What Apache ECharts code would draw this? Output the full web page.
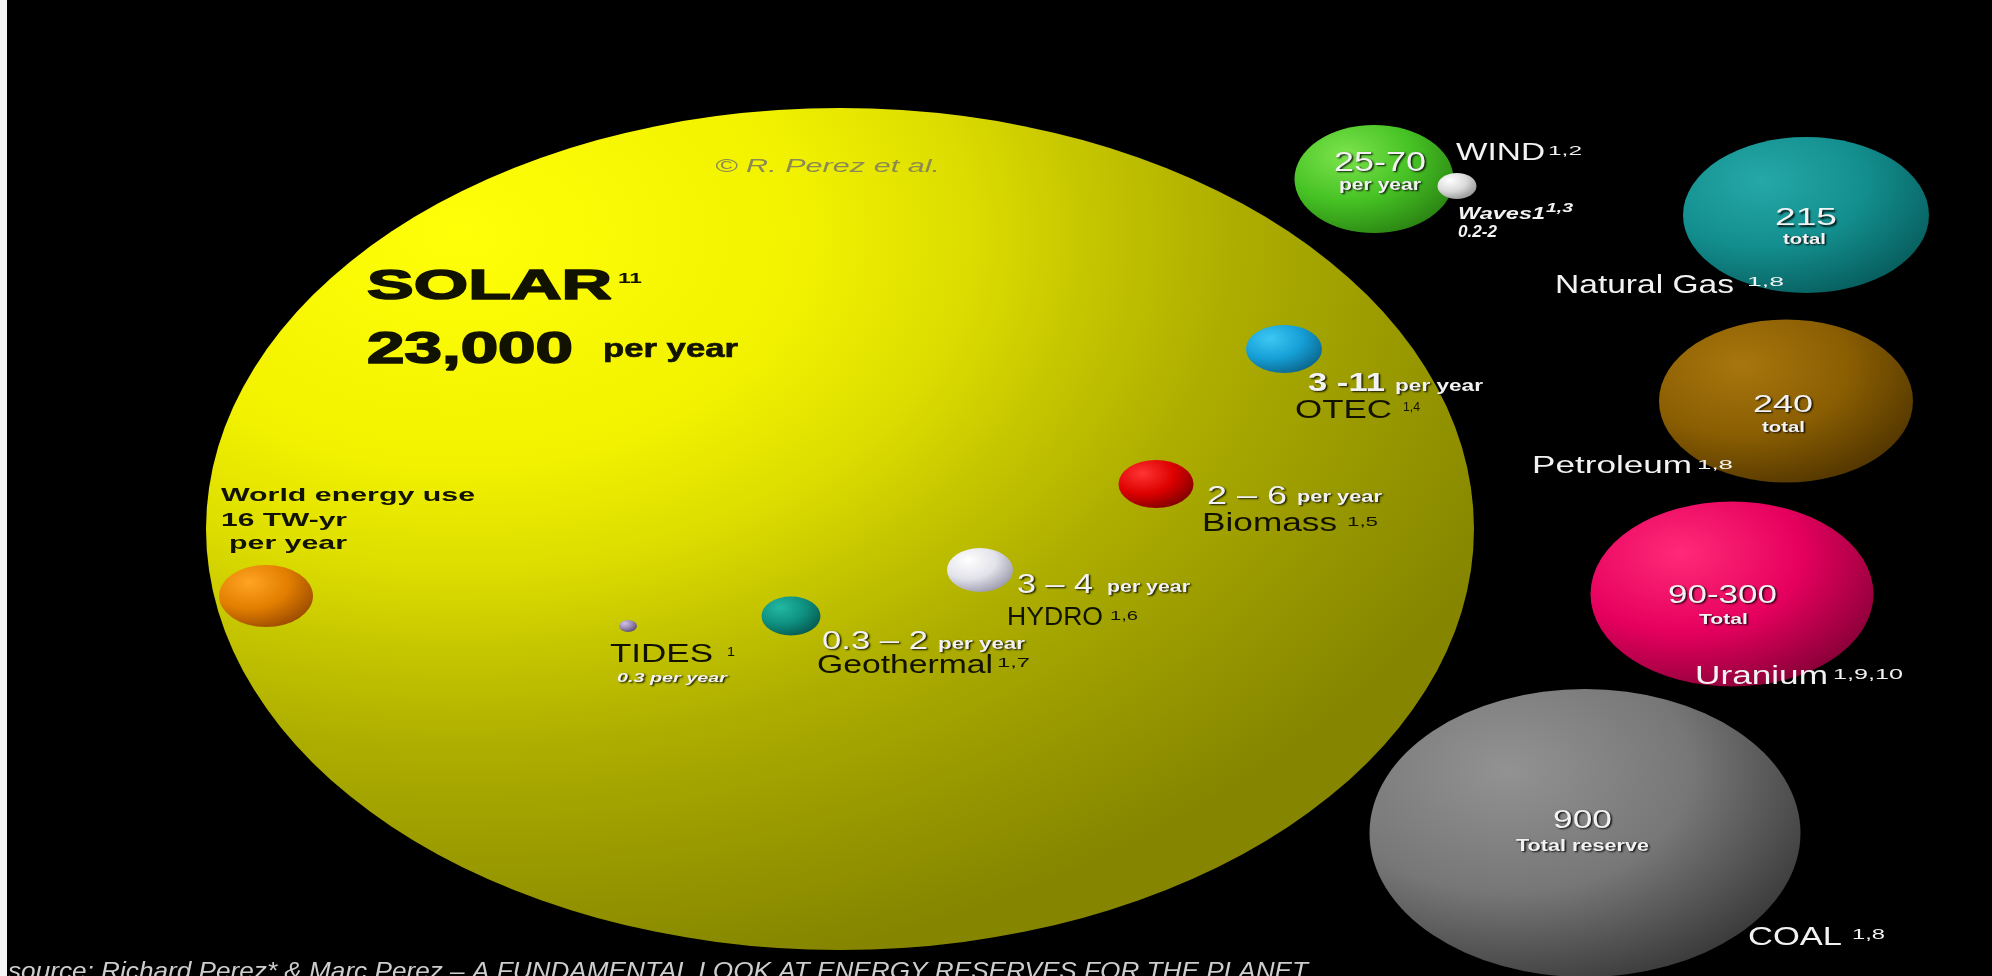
<!DOCTYPE html>
<html>
<head>
<meta charset="utf-8">
<script src="https://cdn.jsdelivr.net/npm/echarts@6/dist/echarts.min.js"></script>
<style>
html,body{margin:0;padding:0;background:#000;overflow:hidden}
#c{width:1992px;height:976px}
</style>
</head>
<body>
<div id="c"></div>
<script>
// ---------------- data ----------------
const sourceNames = ['SOLAR','WIND','Waves1','Natural Gas','Petroleum','Uranium','COAL','OTEC','Biomass','HYDRO','Geothermal','TIDES','World energy use'];
const amounts     = ['23,000','25-70','0.2-2','215','240','90-300','900','3 -11','2 \u2013 6','3 \u2013 4','0.3 \u2013 2','0.3','16 TW-yr'];
const amountUnits = ['per year','per year','','total','total','Total','Total reserve','per year','per year','per year','per year','per year','per year'];
const footnotes   = ['11','1,2','1,3','1,8','1,8','1,9,10','1,8','1,4','1,5','1,6','1,7','1',''];
const creditText  = '\u00a9 R. Perez et al.';
const sourceNote  = 'source: Richard Perez* & Marc Perez \u2013 A FUNDAMENTAL LOOK AT ENERGY RESERVES FOR THE PLANET';

// ---------------- layout (canvas units, kept apart from data) ----------------
// [centre x, centre y, width, height]
const bubbleLayout = [
  [840, 529, 1268, 842],
  [1374, 179, 159, 108],
  [1457, 186, 39, 26],
  [1806, 215, 246, 156],
  [1786, 401, 254, 163],
  [1732, 594, 283, 185],
  [1585, 833, 431, 288],
  [1284, 349, 76, 48],
  [1156, 484, 75, 48],
  [980, 570, 66, 44],
  [791, 616, 59, 39],
  [628, 626, 18, 12],
  [266, 596, 94, 62]
];
// [highlight, body, shadow]
const bubbleColors = [
  ['#ffff08', '#dcdc00', '#858500'],
  ['#7ce44c', '#46c224', '#267a10'],
  ['#ffffff', '#dadada', '#8a8a8a'],
  ['#26a8a8', '#138e8e', '#065656'],
  ['#a8760e', '#8a5e02', '#4a3000'],
  ['#ff2a78', '#e6005e', '#7a0032'],
  ['#929292', '#777777', '#303030'],
  ['#3cc8f4', '#159fd6', '#0a5c80'],
  ['#ff3434', '#dd0000', '#700000'],
  ['#ffffff', '#e2e2ea', '#8e8ea2'],
  ['#22b8a2', '#0e9080', '#055048'],
  ['#d0c0e8', '#9888b0', '#504060'],
  ['#ffa424', '#e27e00', '#904200']
];

const FAM = "'Liberation Sans', Arial, Helvetica, sans-serif";
const ELLIPSE = 'path://M50 0A50 50 0 1 1 50 100A50 50 0 1 1 50 0Z';

function grad(c, i) {
  if (i === 0) {
    return { type: 'radial', x: 0.2, y: 0.15, r: 0.9, colorStops: [
      { offset: 0, color: c[0] }, { offset: 0.3, color: '#f2f200' },
      { offset: 0.45, color: c[1] }, { offset: 0.55, color: '#c6c600' },
      { offset: 0.68, color: '#adad00' }, { offset: 0.85, color: '#979700' },
      { offset: 1, color: c[2] }] };
  }
  return { type: 'radial', x: 0.32, y: 0.28, r: 0.85, colorStops: [
    { offset: 0, color: c[0] }, { offset: 0.5, color: c[1] }, { offset: 1, color: c[2] }] };
}

const bubbleData = bubbleLayout.map((b, i) => ({
  name: sourceNames[i],
  value: [b[0], b[1]],
  symbolSize: [b[2], b[3]],
  itemStyle: { color: grad(bubbleColors[i], i), opacity: 1 }
}));

// ---------------- text segments ----------------
const mctx = document.createElement('canvas').getContext('2d');
const WHITE = '#f2f2f2', DARK = '#121200';
function seg(text, x0, x1, base, size, weight, fstyle, color, shadow, heavy) {
  const font = fstyle + ' ' + weight + ' ' + size + 'px ' + FAM;
  mctx.font = font;
  const w = mctx.measureText(text).width || 1;
  const sx = (x1 - x0) / w;
  const st = {
    text: text, font: font, fill: color,
    align: 'left', verticalAlign: 'middle', textAlign: 'left', textVerticalAlign: 'middle',
    textShadowColor: shadow ? 'rgba(0,0,0,0.9)' : 'transparent',
    textShadowBlur: shadow ? 2 : 0, textShadowOffsetX: shadow ? 1.5 : 0, textShadowOffsetY: shadow ? 1.5 : 0
  };
  if (heavy) { st.stroke = color; st.lineWidth = heavy; }
  return { type: 'text', x: x0, y: base - 0.36 * size, scaleX: sx, scaleY: 1, silent: true, z: 100, style: st };
}

const texts = [
  seg(creditText, 715, 940, 173, 18, 'normal', 'italic', '#8a8a52', false),
  // solar
  seg(sourceNames[0], 367, 612, 303, 43, 'bold', 'normal', DARK, false, 1.6),
  seg(footnotes[0], 618, 642, 284, 15, 'bold', 'normal', DARK, false),
  seg(amounts[0], 367, 573, 367, 44, 'bold', 'normal', DARK, false, 1.6),
  seg(amountUnits[0], 603, 738, 359, 25, 'bold', 'normal', DARK, false, 0.6),
  // world energy use
  seg(sourceNames[12], 221, 475, 503, 19, 'bold', 'normal', DARK, false),
  seg(amounts[12], 221, 347, 528, 19, 'bold', 'normal', DARK, false),
  seg(amountUnits[12], 229, 347, 551, 19, 'bold', 'normal', DARK, false),
  // wind
  seg(sourceNames[1], 1456, 1545, 162, 23, 'normal', 'normal', WHITE, false),
  seg(footnotes[1], 1548, 1582, 156, 13, 'normal', 'normal', WHITE, false),
  seg(amounts[1], 1334, 1426, 173, 28, 'normal', 'normal', WHITE, true),
  seg(amountUnits[1], 1339, 1421, 191, 16, 'bold', 'normal', WHITE, true),
  // waves
  seg(sourceNames[2], 1458, 1545, 220, 16, 'bold', 'italic', WHITE, false),
  seg(footnotes[2], 1546, 1573, 213, 12, 'bold', 'italic', WHITE, false),
  seg(amounts[2], 1458, 1497, 238, 16, 'bold', 'italic', WHITE, false),
  // natural gas
  seg(amounts[3], 1775, 1837, 227, 23, 'normal', 'normal', WHITE, true),
  seg(amountUnits[3], 1783, 1826, 245, 14, 'bold', 'normal', WHITE, true),
  seg(sourceNames[3], 1555, 1734, 295, 25, 'normal', 'normal', WHITE, false),
  seg(footnotes[3], 1747, 1784, 287, 13, 'normal', 'normal', WHITE, false),
  // petroleum
  seg(amounts[4], 1753, 1813, 414, 24, 'normal', 'normal', WHITE, true),
  seg(amountUnits[4], 1762, 1805, 433, 14, 'bold', 'normal', WHITE, true),
  seg(sourceNames[4], 1532, 1692, 475, 23, 'normal', 'normal', WHITE, false),
  seg(footnotes[4], 1697, 1733, 470, 13, 'normal', 'normal', WHITE, false),
  // uranium
  seg(amounts[5], 1668, 1777, 605, 26, 'normal', 'normal', WHITE, true),
  seg(amountUnits[5], 1699, 1748, 625, 15, 'bold', 'normal', WHITE, true),
  seg(sourceNames[5], 1695, 1828, 686, 26, 'normal', 'normal', WHITE, false),
  seg(footnotes[5], 1833, 1903, 680, 15, 'normal', 'normal', WHITE, false),
  // coal
  seg(amounts[6], 1553, 1612, 830, 25, 'normal', 'normal', WHITE, true),
  seg(amountUnits[6], 1516, 1649, 852, 16, 'bold', 'normal', WHITE, true),
  seg(sourceNames[6], 1748, 1842, 947, 26, 'normal', 'normal', WHITE, false),
  seg(footnotes[6], 1852, 1885, 940, 14, 'normal', 'normal', WHITE, false),
  // otec
  seg(amounts[7], 1308, 1385, 393, 25, 'bold', 'normal', WHITE, true),
  seg(amountUnits[7], 1395, 1483, 392, 16, 'bold', 'normal', WHITE, true),
  seg(sourceNames[7], 1295, 1392, 420, 26, 'normal', 'normal', DARK, false),
  seg(footnotes[7], 1403, 1420, 412, 13, 'normal', 'normal', DARK, false),
  // biomass
  seg(amounts[8], 1207, 1287, 506, 26, 'normal', 'normal', WHITE, true),
  seg(amountUnits[8], 1297, 1382, 503, 16, 'bold', 'normal', WHITE, true),
  seg(sourceNames[8], 1202, 1337, 533, 26, 'normal', 'normal', DARK, false),
  seg(footnotes[8], 1347, 1378, 527, 13, 'normal', 'normal', DARK, false),
  // hydro
  seg(amounts[9], 1017, 1093, 595, 27, 'normal', 'normal', WHITE, true),
  seg(amountUnits[9], 1107, 1190, 593, 16, 'bold', 'normal', WHITE, true),
  seg(sourceNames[9], 1007, 1103, 627, 26, 'normal', 'normal', DARK, false),
  seg(footnotes[9], 1110, 1138, 621, 13, 'normal', 'normal', DARK, false),
  // geothermal
  seg(amounts[10], 822, 928, 651, 25, 'normal', 'normal', WHITE, true),
  seg(amountUnits[10], 938, 1025, 650, 16, 'bold', 'normal', WHITE, true),
  seg(sourceNames[10], 817, 993, 675, 25, 'normal', 'normal', DARK, false),
  seg(footnotes[10], 997, 1030, 668, 12, 'normal', 'normal', DARK, false),
  // tides
  seg(sourceNames[11], 610, 713, 664, 25, 'normal', 'normal', DARK, false),
  seg(footnotes[11], 727, 735, 657, 12, 'normal', 'normal', DARK, false),
  seg(amounts[11] + ' ' + amountUnits[11], 617, 727, 683, 13, 'bold', 'italic', WHITE, true),
  // source note (cut by the bottom edge)
  seg(sourceNote, 8, 1308, 981, 24, 'normal', 'italic', '#cdcdcd', false)
];

const chart = echarts.init(document.getElementById('c'), null, { renderer: 'canvas' });
chart.setOption({
  backgroundColor: '#000000',
  animation: false,
  grid: { left: 0, right: 0, top: 0, bottom: 0 },
  xAxis: { type: 'value', min: 0, max: 1992, show: false },
  yAxis: { type: 'value', min: 0, max: 976, inverse: true, show: false },
  series: [{
    type: 'scatter',
    symbol: ELLIPSE,
    symbolKeepAspect: false,
    silent: true,
    itemStyle: { opacity: 1 },
    data: bubbleData
  }],
  graphic: [
    { type: 'rect', shape: { x: 0, y: 0, width: 7, height: 976 }, style: { fill: '#f6f6f6' }, z: 200, silent: true }
  ].concat(texts)
});
</script>
</body>
</html>
